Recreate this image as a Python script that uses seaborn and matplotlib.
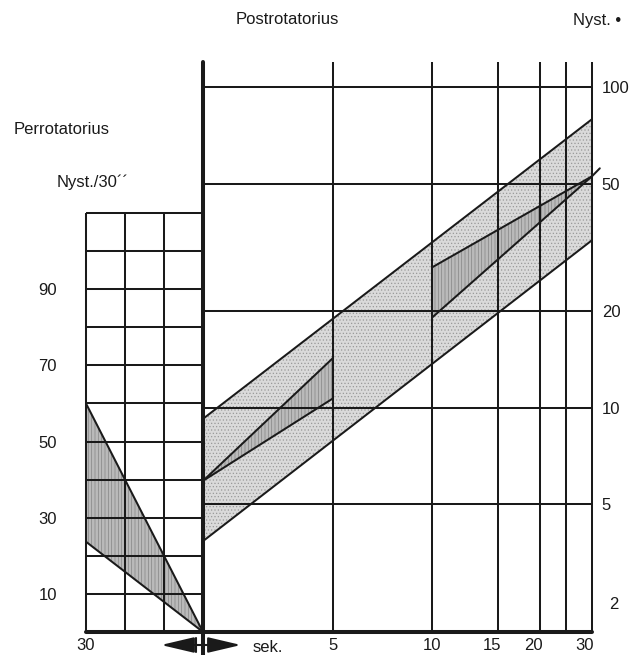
import numpy as np
import matplotlib
matplotlib.use('Agg')
import matplotlib.pyplot as plt
import seaborn as sns
from matplotlib.transforms import ScaledTranslation, blended_transform_factory
from matplotlib.lines import Line2D

sns.set_theme(style='white')
plt.rcParams['font.family'] = ['Liberation Sans', 'DejaVu Sans']
plt.rcParams['hatch.linewidth'] = 0.5
plt.rcParams['font.size'] = 12

# ---------------- data ----------------
# Perrotatorius (left panel): seconds (reversed) vs Nyst./30''
perro_time = [30, 0]
perro_upper = [60, 0]
perro_lower = [23.7, 0]
perro_grid_time = [30, 20, 10]
perro_grid_nyst = [10, 20, 30, 40, 50, 60, 70, 80, 90, 100, 110]
perro_tick_vals = [10, 30, 50, 70, 90]
perro_xtick_vals = [30]

# Postrotatorius (right panel): seconds vs Nyst. (log)
post_time_grid = [5, 10, 15, 20, 25, 30]
post_time_ticks = [5, 10, 15, 20, 30]
post_nyst_grid = [5, 10, 20, 50, 100]
band_time = [0, 30]
band_upper = [9.24, 79.4]
band_lower = [3.84, 33.3]
tri1_time = [0, 5]
tri1_upper = [5.92, 14.3]
tri1_lower = [5.92, 10.7]
tri2_time = [10, 30]
tri2_upper = [27.4, 52.7]
tri2_lower = [19.1, 52.7]
stub_time = [30, 31.5]
stub_nyst = [52.7, 55.8]

# ---------------- nonlinear time scale of the nomogram ----------------
SCALE_T = np.array([0, 5, 10, 15, 20, 25, 30], float)
SCALE_P = np.array([0, 130, 229, 295, 337, 363, 389], float)

def fwd(t):
    t = np.asarray(t, float)
    out = np.interp(t, SCALE_T, SCALE_P)
    hi = t > SCALE_T[-1]
    lo = t < SCALE_T[0]
    out = np.where(hi, SCALE_P[-1] + (t - SCALE_T[-1]) * (SCALE_P[-1] - SCALE_P[-2]) / (SCALE_T[-1] - SCALE_T[-2]), out)
    out = np.where(lo, t * (SCALE_P[1] - SCALE_P[0]) / (SCALE_T[1] - SCALE_T[0]), out)
    return out

def inv(p):
    p = np.asarray(p, float)
    out = np.interp(p, SCALE_P, SCALE_T)
    hi = p > SCALE_P[-1]
    lo = p < SCALE_P[0]
    out = np.where(hi, SCALE_T[-1] + (p - SCALE_P[-1]) * (SCALE_T[-1] - SCALE_T[-2]) / (SCALE_P[-1] - SCALE_P[-2]), out)
    out = np.where(lo, p * (SCALE_T[1] - SCALE_T[0]) / (SCALE_P[1] - SCALE_P[0]), out)
    return out

W, H = 631, 655
fig = plt.figure(figsize=(W / 100, H / 100), dpi=100)
fig.patch.set_facecolor('white')

AXR_H = 570
axL = fig.add_axes([86 / W, 23 / H, 117 / W, 419 / H])
axR = fig.add_axes([203 / W, 23 / H, 389 / W, AXR_H / H])
for ax in (axL, axR):
    ax.set_facecolor('none')
    for s in ax.spines.values():
        s.set_visible(False)

GRID_LW = 1.45
LINE_LW = 1.45
THICK_LW = 2.9
light = dict(facecolor='#dadada', edgecolor='#9a9a9a', hatch='.....', linewidth=0)
dark = dict(facecolor='#bababa', edgecolor='#858585', hatch='|||||', linewidth=0)

YTOP = 119.7

# ---- left panel ----
axL.fill_between(perro_time, perro_lower, perro_upper, zorder=1, **dark)
axL.hlines(perro_grid_nyst, 30, 0, color='k', lw=GRID_LW, zorder=2, clip_on=False)
axL.vlines(perro_grid_time, 0, 110, color='k', lw=GRID_LW, zorder=2, clip_on=False)
sns.lineplot(x=perro_time, y=perro_upper, ax=axL, color='k', lw=LINE_LW, zorder=3, sort=False, estimator=None)
sns.lineplot(x=perro_time, y=perro_lower, ax=axL, color='k', lw=LINE_LW, zorder=3, sort=False, estimator=None)
axL.set_xlim(30, 0)
axL.set_ylim(0, 110)
axL.set_yticks(perro_tick_vals)
axL.set_yticklabels([str(v) for v in perro_tick_vals])
axL.set_xticks(perro_xtick_vals)
axL.set_xticklabels([str(v) for v in perro_xtick_vals])
axL.tick_params(axis='y', length=0, pad=21, labelsize=12, colors='k')
axL.tick_params(axis='x', length=0, pad=4, labelsize=12, colors='k')

# ---- right panel ----
axR.set_xscale('function', functions=(fwd, inv))
axR.set_yscale('log')
axR.fill_between(band_time, band_lower, band_upper, zorder=1, **light)
axR.fill_between(tri1_time, tri1_lower, tri1_upper, zorder=1.5, **dark)
axR.fill_between(tri2_time, tri2_lower, tri2_upper, zorder=1.5, **dark)
axR.hlines(post_nyst_grid, 0, 30, color='k', lw=GRID_LW, zorder=2)
axR.vlines(post_time_grid, 2, YTOP, color='k', lw=GRID_LW, zorder=2, clip_on=False)
for t, yy in ((band_time, band_upper), (band_time, band_lower),
              (tri1_time, tri1_upper), (tri1_time, tri1_lower),
              (tri2_time, tri2_upper), (tri2_time, tri2_lower)):
    sns.lineplot(x=t, y=yy, ax=axR, color='k', lw=LINE_LW, zorder=3, sort=False, estimator=None)
axR.plot(stub_time, stub_nyst, color='k', lw=LINE_LW, zorder=3, clip_on=False)
axR.set_xlim(0, 30)
axR.set_ylim(2, YTOP)
# thick axes lines
axR.axvline(0, ymin=-23 / AXR_H, ymax=1, color='k', lw=THICK_LW, zorder=4, clip_on=False)
axR.axhline(2, xmin=-117 / 389, xmax=1, color='k', lw=THICK_LW, zorder=4, clip_on=False)
axL.vlines([30], 0, 110, color='k', lw=GRID_LW, zorder=2, clip_on=False)

axR.yaxis.tick_right()
axR.yaxis.set_minor_locator(matplotlib.ticker.NullLocator())
axR.set_yticks(post_nyst_grid)
axR.set_yticklabels([str(v) for v in post_nyst_grid])
axR.set_xticks(post_time_ticks)
axR.set_xticklabels([str(v) for v in post_time_ticks])
axR.xaxis.set_minor_locator(matplotlib.ticker.NullLocator())
axR.tick_params(axis='y', which='both', length=0, pad=7, labelsize=12, colors='k')
axR.tick_params(axis='x', which='both', length=0, pad=4, labelsize=12, colors='k')
for lab, dx in zip(axR.get_xticklabels(), [0, 0, -6, -7, -7]):
    lab.set_transform(lab.get_transform() + ScaledTranslation(dx / 100, 0, fig.dpi_scale_trans))
trR = blended_transform_factory(axR.transAxes, axR.transData)
axR.text(1 + 22 / 389, 2.44, '2', transform=trR, ha='center', va='center', fontsize=12, color='k')

# ---- double arrow under the origin ----
axR.annotate('', xy=(161, 10), xytext=(241, 10), xycoords='figure pixels', textcoords='figure pixels',
             arrowprops=dict(arrowstyle='<|-|>,head_length=1.7,head_width=0.4', color='k', lw=1.5,
                             shrinkA=0, shrinkB=0), annotation_clip=False)
fig.add_artist(Line2D([196 / W, 196 / W], [3 / H, 17 / H], color='k', lw=1.5))

# ---- texts ----
def ftext(x, y, s, **kw):
    fig.text(x / W, 1 - y / H, s, fontsize=12, color='k', va='center', **kw)

ftext(287, 20, 'Postrotatorius', ha='center')
ftext(597, 20, 'Nyst. \u2022', ha='center')
ftext(62, 129, 'Perrotatorius', ha='center')
ftext(93, 182, 'Nyst./30\u00b4\u00b4', ha='center')
ftext(253, 647, 'sek.', ha='left')

fig.savefig('out.png', dpi=100, facecolor='white')
